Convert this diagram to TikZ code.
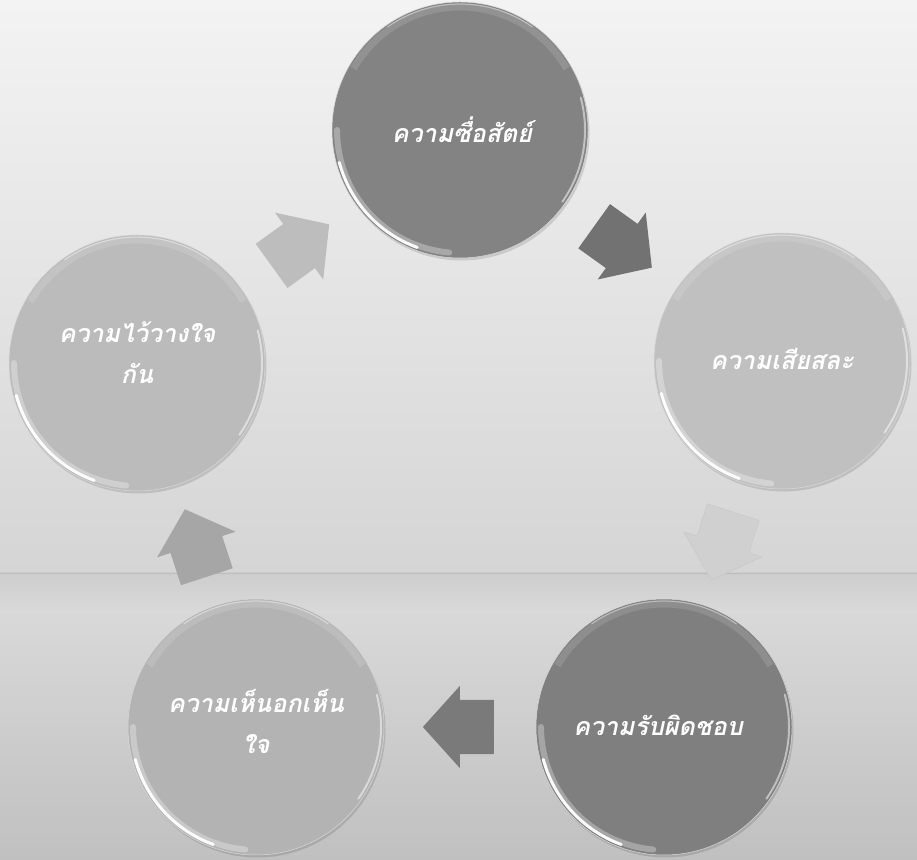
\documentclass[tikz,border=0pt]{standalone}
\usepackage{fontspec}
\newfontfamily\thaifont[Script=Thai]{Loma}
\usetikzlibrary{shapes.arrows,calc}
\definecolor{bgA}{HTML}{F3F3F3}
\definecolor{bgB}{HTML}{D5D5D5}
\definecolor{bgC}{HTML}{CDCDCD}
\definecolor{bgD}{HTML}{D9D9D9}
\definecolor{bgE}{HTML}{C0C0C0}
\definecolor{cOne}{HTML}{838383}
\definecolor{cTwo}{HTML}{C0C0C0}
\definecolor{cThree}{HTML}{7F7F7F}
\definecolor{cFour}{HTML}{B3B3B3}
\definecolor{cFive}{HTML}{BBBBBB}
\definecolor{aOne}{HTML}{727272}
\definecolor{aTwo}{HTML}{D0D0D0}
\definecolor{aThree}{HTML}{7A7A7A}
\definecolor{aFour}{HTML}{A6A6A6}
\definecolor{aFive}{HTML}{BDBDBD}
\newcommand\glossy[1]{%
  \draw[white, line width=6pt, opacity=0.3, line cap=round]
    ($(#1.center)+(180:123pt)$) arc[start angle=180, end angle=265, radius=123pt];
  \draw[white, line width=3pt, opacity=0.95, line cap=round]
    ($(#1.center)+(195:125pt)$) arc[start angle=195, end angle=250, radius=125pt];
  \draw[white, line width=7pt, opacity=0.12]
    ($(#1.center)+(30:123pt)$) arc[start angle=30, end angle=150, radius=123pt];
  \draw[white, line width=1.2pt, opacity=0.4, line cap=round]
    ($(#1.center)+(55:126pt)$) arc[start angle=55, end angle=125, radius=126pt];
  \draw[white, line width=2pt, opacity=0.5, line cap=round]
    ($(#1.center)+(-35:125pt)$) arc[start angle=-35, end angle=15, radius=125pt];
}
\begin{document}
\begin{tikzpicture}[x=1pt,y=1pt,
  bubble/.style={circle, minimum size=256pt, inner sep=0pt,
    draw=white!70!gray, line width=0.5pt,
    preaction={fill=black, opacity=0.12, transform canvas={xshift=1.5pt,yshift=-2.5pt}}},
  bubtext/.style={align=center, inner sep=0pt,
    font=\thaifont\bfseries\itshape\fontsize{25}{41}\selectfont, text=white},
  blockarrow/.style={single arrow, inner xsep=0pt, inner ysep=27pt,
    minimum height=71pt, single arrow head extend=14pt,
    single arrow tip angle=96, draw=none, sloped, allow upside down}
]
\useasboundingbox (0,0) rectangle (917,859);
% background
\shade[top color=bgA, bottom color=bgB] (0,286) rectangle (917,859);
\shade[top color=bgC, bottom color=bgD] (0,249) rectangle (917,286);
\shade[top color=bgD, bottom color=bgE] (0,0) rectangle (917,249);
\draw[gray, opacity=0.2, line width=0.5pt] (0,286) -- (917,286);
% circles
\node[bubble, fill=cOne]   (n1) at (460,729) {};
\node[bubble, fill=cTwo]   (n2) at (782,498) {};
\node[bubble, fill=cThree] (n3) at (664,132) {};
\node[bubble, fill=cFour]  (n4) at (256,132) {};
\node[bubble, fill=cFive]  (n5) at (137,496) {};
\glossy{n1}\glossy{n2}\glossy{n3}\glossy{n4}\glossy{n5}
% texts
\node[bubtext] (t1) at ($(n1.center)+(2,0)$) {ความซื่อสัตย์};
\node[bubtext] (t2) at ($(n2.center)+(0,2)$) {ความเสียสละ};
\node[bubtext] (t3) at ($(n3.center)+(-6,2)$) {ความรับผิดชอบ};
\node[bubtext] (t4) at ($(n4.center)+(0,6)$) {ความเห็นอกเห็น\\ใจ};
\node[bubtext] (t5) at ($(n5.center)+(0,10)$) {ความไว้วางใจ\\กัน};
% arrows
\path (n1) -- node[blockarrow, pos=0.43, fill=aOne]   (a12) {} (n2);
\path (n2) -- node[blockarrow, pos=0.42, fill=aTwo, draw=gray!45, line width=0.4pt] (a23) {} (n3);
\path (n3) -- node[blockarrow, pos=0.43, fill=aThree] (a34) {} (n4);
\path (n4) -- node[blockarrow, pos=0.42, fill=aFour]  (a45) {} (n5);
\path (n5) -- node[blockarrow, pos=0.43, fill=aFive]  (a51) {} (n1);
\end{tikzpicture}
\end{document}
